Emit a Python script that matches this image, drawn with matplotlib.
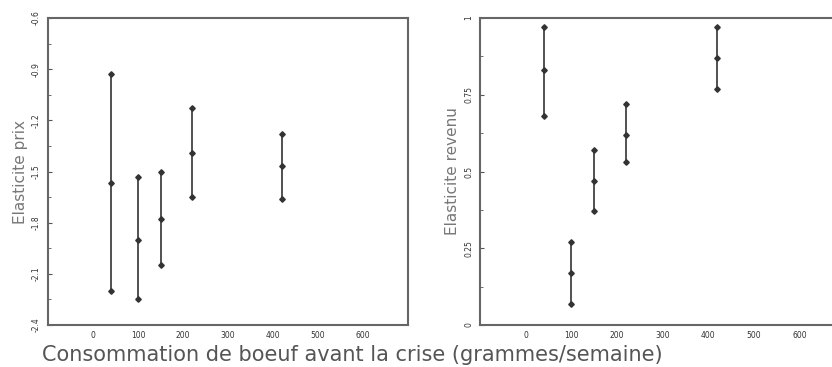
import matplotlib
matplotlib.use("Agg")
import matplotlib.pyplot as plt
import numpy as np

# data
conso = [40, 100, 150, 220, 420]
prix_haut = [-0.93, -1.53, -1.50, -1.13, -1.28]
prix_moy = [-1.57, -1.90, -1.78, -1.39, -1.47]
prix_bas = [-2.20, -2.25, -2.05, -1.65, -1.66]
rev_haut = [0.97, 0.27, 0.57, 0.72, 0.97]
rev_moy = [0.83, 0.17, 0.47, 0.62, 0.87]
rev_bas = [0.68, 0.07, 0.37, 0.53, 0.77]
xticks = [0, 100, 200, 300, 400, 500, 600]
prix_ticks = [-0.6, -0.9, -1.2, -1.5, -1.8, -2.1, -2.4]
rev_ticks = [0, 0.25, 0.5, 0.75, 1.0]

W, H = 832, 367
fig = plt.figure(figsize=(W/100, H/100), dpi=100)
ax1 = fig.add_axes([48/W, 1-325/H, 360/W, 307/H])
ax2 = fig.add_axes([480/W, 1-325/H, 365/W, 307/H])

def style(ax):
    for s in ax.spines.values():
        s.set_linewidth(1.5)
        s.set_color('#666666')
    ax.set_xlim(-100, 700)
    ax.set_xticks(xticks)
    ax.set_xticklabels([str(v) for v in xticks], fontsize=5.5, color='#333333')
    ax.tick_params(axis='x', length=0, pad=4)
    ax.tick_params(axis='y', direction='in', length=3, labelsize=5.5, labelrotation=90,
                   labelcolor='#333333', pad=5, color='#555555')
    ax.tick_params(axis='y', which='minor', direction='in', length=2, color='#555555')
    for t in ax.get_yticklabels():
        t.set_va('center')

for x, h, m, b in zip(conso, prix_haut, prix_moy, prix_bas):
    ax1.plot([x, x, x], [h, m, b], color='#333333', lw=1.2, marker='D', ms=2.8)
ax1.set_ylim(-2.4, -0.6)
ax1.set_yticks(prix_ticks)
ax1.set_yticks(np.arange(-2.4, -0.59, 0.15), minor=True)
ax1.set_yticklabels([f"{v:.1f}" for v in prix_ticks])
style(ax1)
ax1.set_ylabel("Elasticite prix", fontsize=11, color='#777777', labelpad=3)

for x, h, m, b in zip(conso, rev_haut, rev_moy, rev_bas):
    ax2.plot([x, x, x], [h, m, b], color='#333333', lw=1.2, marker='D', ms=2.8)
ax2.set_ylim(0, 1)
ax2.set_yticks(rev_ticks)
ax2.set_yticks(np.arange(0, 1.01, 0.125), minor=True)
ax2.set_yticklabels(["0", "0.25", "0.5", "0.75", "1"])
style(ax2)
ax2.set_ylabel("Elasticite revenu", fontsize=11, color='#777777', labelpad=3)

fig.text(352/W, 1-355/H, "Consommation de boeuf avant la crise (grammes/semaine)",
         ha='center', va='center', fontsize=15, color='#555555')

fig.savefig("out.png", dpi=100)
